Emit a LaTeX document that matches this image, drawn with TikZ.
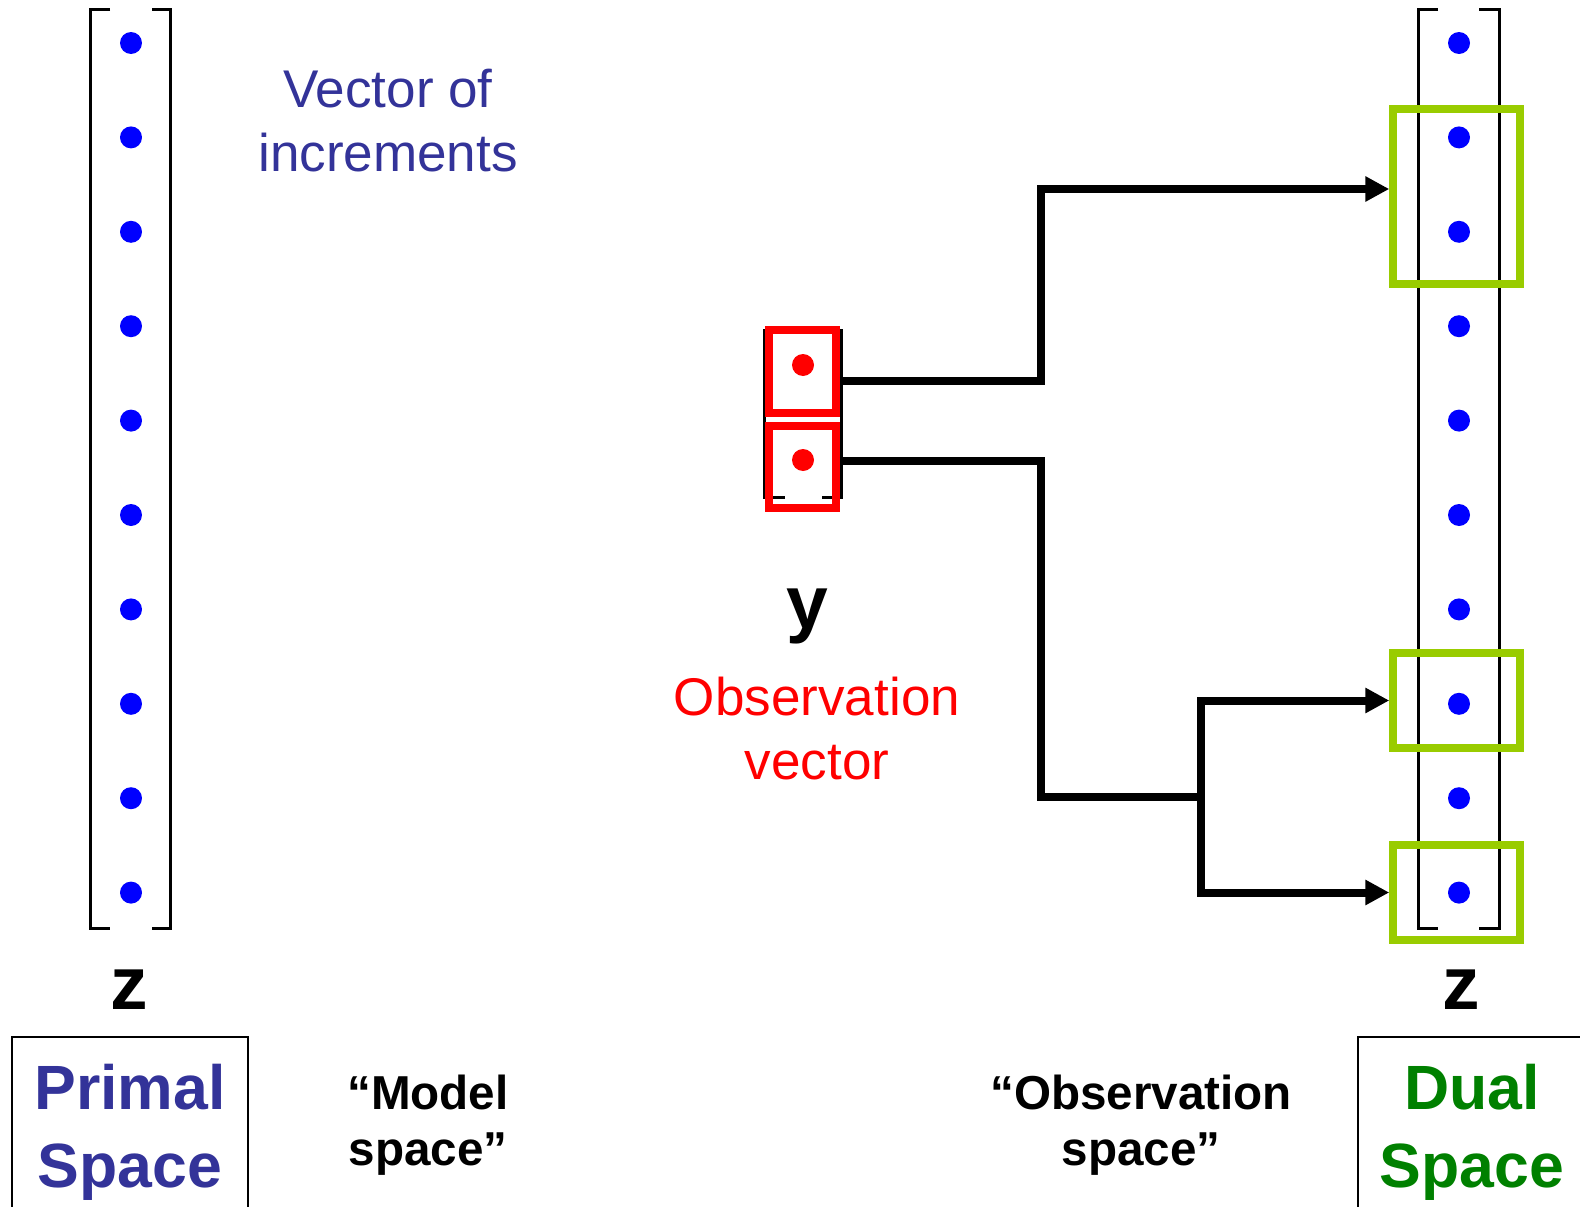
\documentclass[tikz,border=0pt]{standalone}
\usepackage{fontspec}
\setmainfont{Liberation Sans}
\usetikzlibrary{arrows.meta,positioning}
\definecolor{primblue}{RGB}{51,51,153}
\definecolor{dotblue}{RGB}{0,0,255}
\definecolor{obsred}{RGB}{255,0,0}
\definecolor{dualgreen}{RGB}{0,128,0}
\definecolor{boxgreen}{RGB}{153,204,0}

\begin{document}
\begin{tikzpicture}[x=0.02cm, y=-0.02cm,
  dotz/.style={circle, fill=dotblue, inner sep=0pt, minimum size=0.44cm},
  doty/.style={circle, fill=obsred, inner sep=0pt, minimum size=0.44cm},
  brk/.style={line width=0.06cm, black},
  obsbox/.style={draw=obsred, line width=0.16cm, minimum width=1.34cm, inner sep=0pt},
  selbox/.style={draw=boxgreen, line width=0.15cm, minimum width=2.54cm, inner sep=0pt},
  spacebox/.style={draw, line width=0.04cm, align=center, inner sep=0pt,
                   minimum height=3.8cm, font=\fontsize{35.6}{44.4}\selectfont\bfseries},
  vlbl/.style={font=\fontsize{42.7}{50}\selectfont\bfseries},
  txt/.style={align=center, font=\fontsize{30.2}{36.4}\selectfont},
  spacelbl/.style={align=center, font=\fontsize{27.1}{31.9}\selectfont\bfseries},
  link/.style={line width=0.16cm, black},
  flow/.style={link, -{Triangle[length=0.48cm, width=0.48cm]}}
]
\useasboundingbox (0,0) rectangle (1580,1207);
\clip (0,0) rectangle (1580,1207);

%% Brackets of the three vectors
\draw[brk] (110,9) -| (90,928) -- (110,928);
\draw[brk] (152,9) -| (170,928) -- (152,928);
\draw[brk] (1438,9) -| (1418,928) -- (1438,928);
\draw[brk] (1479,9) -| (1499,928) -- (1479,928);
\draw[brk] (785,330) -| (764,497) -- (785,497);
\draw[brk] (822,330) -| (841,497) -- (822,497);

%% Observation vector y
\node[obsbox, minimum height=1.66cm] (ra) at (802.5,371.5) {};
\node[obsbox, minimum height=1.64cm] (rb) at (802.5,467)   {};
\node[doty] (ya) at (803,365) {};
\node[doty] (yb) at (803,460) {};

%% Selected entries of the dual vector
\node[selbox, minimum height=3.5cm] (ga) at (1456.5,196.5) {};
\node[selbox, minimum height=1.9cm] (gb) at (1456.5,700.5) {};
\node[selbox, minimum height=1.9cm] (gc) at (1456.5,892.5) {};

%% Entries of z (primal and dual)
\foreach \i in {1,...,10} {
  \node[dotz] (zl\i) at (131,{43+94.4*(\i-1)}) {};
  \node[dotz] (zr\i) at (1459,{43+94.4*(\i-1)}) {};
}

%% Connectors y -> dual entries
\coordinate (ka) at (1041,189);
\coordinate (kb) at (1041,797);
\coordinate (ks) at (1201,797);
\draw[flow] ([yshift=-0.19cm]ra.east) -| (ka) -- (ka -| ga.west);
\draw[link] ([yshift=0.12cm]rb.east) -| (kb) -- (ks);
\draw[flow] (ks) |- (gb.west);
\draw[flow] (ks) |- (gc.west);

%% Labels
\node[txt, text=primblue] (inc) at (388,121) {Vector of\\increments};
\node[txt, text=obsred]   (obs) at (817,729) {Observation\\vector};
\node[vlbl] (zlab)  at (129,990)  {z};
\node[vlbl] (zrlab) at (1461,990) {z};
\node[vlbl] (ylab)  at (807,616)  {y};

%% Space boxes and captions
\node[spacebox, text=primblue,  minimum width=4.72cm] (primal) at (130,1132)  {Primal\\Space};
\node[spacebox, text=dualgreen, minimum width=4.56cm] (dual)   at (1472,1132) {Dual\\Space};
\node[spacelbl] (model)    at (428,1125)  {“Model\\space”};
\node[spacelbl] (obsspace) at (1141,1125) {“Observation\\space”};
\end{tikzpicture}
\end{document}
